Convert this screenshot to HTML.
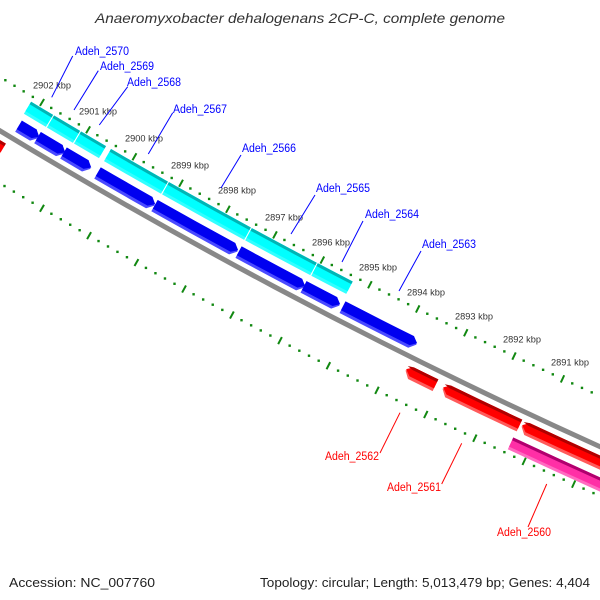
<!DOCTYPE html>
<html><head><meta charset="utf-8"><style>
html,body{margin:0;padding:0;background:#fff;width:600px;height:600px;overflow:hidden}
svg{display:block}
text{font-family:"Liberation Sans","DejaVu Sans",sans-serif}
</style></head><body>
<svg id="s" width="600" height="600" viewBox="0 0 600 600" xmlns="http://www.w3.org/2000/svg">
<rect width="600" height="600" fill="#fff"/>
<g id="g"></g>
<g id="lab">
<text x="300" y="23" text-anchor="middle" font-size="14" font-style="italic" fill="#333" textLength="410" lengthAdjust="spacingAndGlyphs">Anaeromyxobacter dehalogenans 2CP-C, complete genome</text>
<text x="9" y="587" font-size="13" fill="#222" textLength="146" lengthAdjust="spacingAndGlyphs">Accession: NC_007760</text>
<text x="590" y="587" font-size="13" fill="#222" text-anchor="end" textLength="330" lengthAdjust="spacingAndGlyphs">Topology: circular; Length: 5,013,479 bp; Genes: 4,404</text>
</g>
</svg>
<script>
(function(){
var NS="http://www.w3.org/2000/svg",g=document.getElementById("g");
var cx=2918,cy=-4684,R0=5630,D=Math.PI/180;
function el(n,a,t){var e=document.createElementNS(NS,n);for(var k in a)e.setAttribute(k,a[k]);if(t)e.textContent=t;g.appendChild(e);return e;}
function P(r,t){return [cx+r*Math.cos(t),cy+r*Math.sin(t)];}
function f(p){return p[0].toFixed(2)+","+p[1].toFixed(2);}
function thx(x,r){return Math.acos((x-cx)/r);}
var a=P(R0,126*D),b=P(R0,110*D);
el("path",{d:"M"+f(a)+"A"+R0+","+R0+" 0 0 0 "+f(b),fill:"none",stroke:"#888","stroke-width":5});
function shape(r1,r2,t1,t2,dir,col){
  var rm=(r1+r2)/2,al=6/rm,d;
  var a1=t1,a2=t2;
  if(dir==1)a2=t2+al; if(dir==-1)a1=t1-al;
  d="M"+f(P(r1,a1))+"A"+r1+","+r1+" 0 0 0 "+f(P(r1,a2));
  if(dir==1)d+="L"+f(P(rm,t2));
  d+="L"+f(P(r2,a2))+"A"+r2+","+r2+" 0 0 1 "+f(P(r2,a1));
  if(dir==-1)d+="L"+f(P(rm,t1));
  d+="Z";
  el("path",{d:d,fill:col});
}
function gene(x1,x2,r1,r2,dir,cols){
  var rm=(r1+r2)/2,t1=thx(x1,rm)-0.6/rm,t2=thx(x2,rm)+0.6/rm;
  shape(r1,r2,t1,t2,dir,cols[2]);
  shape(r1,r2-3,t1,t2,dir,cols[1]);
  if(cols[0])shape(r1,r1+3,t1,t2,dir,cols[0]);
}
var cyan=[[27,50],[50,77],[77,103],[107,165],[165,248],[248,314],[314,350]];
cyan.forEach(function(p){gene(p[0],p[1],R0-41,R0-27,0,["#00b5b5","#00ffff","#33ffff"]);});
var blue=[[18,39],[37,65],[63,91],[97,155],[154,238],[238,305],[303,340],[342,417]];
blue.forEach(function(p){gene(p[0],p[1],R0-20,R0-7,1,[null,"#0000f0","#4a4aff"]);});
var red=[[-30,3],[405,436],[442,520],[521,640]];
red.forEach(function(p){gene(p[0],p[1],R0+8,R0+21,-1,["#b00000","#ff0000","#ff5a5a"]);});
gene(510,660,R0+28,R0+41,0,["#b0006e","#ff2fa6","#ff6ac0"]);
var base=121.0,step=0.55;
for(var i=-40;i<=80;i++){
  var t=(base-step*i/5)*D;
  [R0-46,R0+45].forEach(function(r){
    if(i%5==0){
      var p1=P(r-4,t),p2=P(r+4,t);
      el("line",{x1:p1[0].toFixed(2),y1:p1[1].toFixed(2),x2:p2[0].toFixed(2),y2:p2[1].toFixed(2),stroke:"#118811","stroke-width":2});
    }else{
      var p=P(r,t);
      el("rect",{x:(p[0]-1.2).toFixed(2),y:(p[1]-1.2).toFixed(2),width:2.4,height:2.4,fill:"#118811"});
    }
  });
}
var tl=[[2902,33,85],[2901,79,111],[2900,125,138],[2899,171,165],[2898,218,190],[2897,265,217],[2896,312,242],[2895,359,267],[2894,407,292],[2893,455,316],[2892,503,339],[2891,551,362]];
tl.forEach(function(q){el("text",{x:q[1],y:q[2]+3.5,"font-size":"9.5",fill:"#333",textLength:38,lengthAdjust:"spacingAndGlyphs"},q[0]+" kbp");});
var gl=[["Adeh_2570",75,51,72.7,56,51.7,97.3,"#0000ff"],["Adeh_2569",100,66,98.3,70.7,74,110,"#0000ff"],["Adeh_2568",127,82,127.7,86.7,99.3,125,"#0000ff"],["Adeh_2567",173,109,172.7,112.7,148.3,154,"#0000ff"],["Adeh_2566",242,148,241,155,221,188,"#0000ff"],["Adeh_2565",316,188,315,195,291,234,"#0000ff"],["Adeh_2564",365,214,363,221,342,262,"#0000ff"],["Adeh_2563",422,244,421,251,399,291,"#0000ff"],
["Adeh_2562",325,456,380,453,400,412.7,"#ff0000"],["Adeh_2561",387,487,441.7,484,461.7,443.3,"#ff0000"],["Adeh_2560",497,532,528,527,546.7,484,"#ff0000"]];
gl.forEach(function(q){
  el("line",{x1:q[3],y1:q[4],x2:q[5],y2:q[6],stroke:q[7],"stroke-width":1});
  el("text",{x:q[1],y:q[2]+4,"font-size":"11.5",fill:q[7],textLength:54,lengthAdjust:"spacingAndGlyphs"},q[0]);
});
})();
</script>
</body></html>
